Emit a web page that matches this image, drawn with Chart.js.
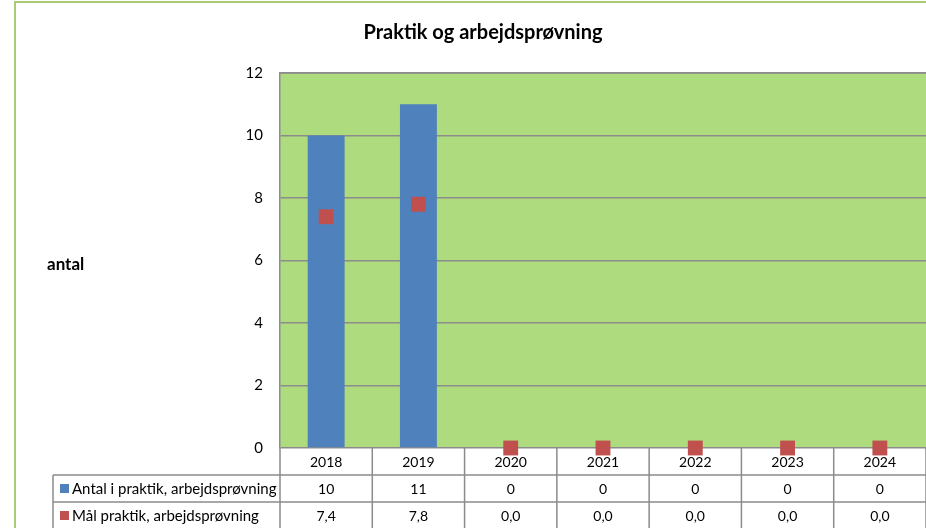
<!DOCTYPE html>
<html>
<head>
<meta charset="utf-8">
<script src="https://cdn.jsdelivr.net/npm/chart.js@4/dist/chart.umd.min.js"></script>
<style>
html,body{margin:0;padding:0;background:#fff;}
#wrap{position:relative;width:926px;height:528px;}
</style>
</head>
<body>
<div id="wrap"><canvas id="c" width="926" height="528"></canvas></div>
<script>
const categories = ['2018','2019','2020','2021','2022','2023','2024'];
const antalValues = [10, 11, 0, 0, 0, 0, 0];
const maalValues = [7.4, 7.8, 0.0, 0.0, 0.0, 0.0, 0.0];
const seriesNames = ['Antal i praktik, arbejdsprøvning', 'Mål praktik, arbejdsprøvning'];
const chartTitle = 'Praktik og arbejdsprøvning';
const yAxisTitle = 'antal';
const yMin = 0, yMax = 12, yStep = 2;

const FONT = 'Lato, "Open Sans", sans-serif';
const GREEN = '#ADDB7D';
const BLUE = '#4F81BD';
const RED = '#C0504D';
const LINE = '#8C8C8C';

const tablePlugin = {
  id: 'tablePlugin',
  beforeDraw(chart) {
    const ctx = chart.ctx, a = chart.chartArea;
    ctx.save();
    ctx.fillStyle = '#fff';
    ctx.fillRect(0, 0, chart.width, chart.height);
    ctx.fillStyle = GREEN;
    ctx.fillRect(a.left, a.top, a.right - a.left, a.bottom - a.top);
    ctx.restore();
  },
  beforeDatasetsDraw(chart) {
    const ctx = chart.ctx, a = chart.chartArea;
    const n = categories.length;
    const w = (a.right - a.left) / n;
    const r0 = a.bottom, r1 = r0 + 27, r2 = r1 + 27, r3 = r2 + 27;
    const legLeft = 53;
    ctx.save();
    // outer chart border
    ctx.strokeStyle = '#A9CB78';
    ctx.lineWidth = 2;
    ctx.beginPath();
    ctx.moveTo(15, chart.height + 5);
    ctx.lineTo(15, 2);
    ctx.lineTo(chart.width + 5, 2);
    ctx.stroke();
    // plot top border
    ctx.strokeStyle = LINE;
    ctx.lineWidth = 1.5;
    ctx.beginPath();
    ctx.moveTo(a.left, a.top); ctx.lineTo(a.right, a.top);
    ctx.stroke();
    // table lines
    ctx.beginPath();
    ctx.moveTo(legLeft, r1); ctx.lineTo(a.right, r1);
    ctx.moveTo(legLeft, r2); ctx.lineTo(a.right, r2);
    ctx.moveTo(legLeft, r3); ctx.lineTo(a.right, r3);
    ctx.moveTo(legLeft, r1); ctx.lineTo(legLeft, r3);
    for (let i = 0; i <= n; i++) {
      const x = a.left + i * w;
      ctx.moveTo(x, r0); ctx.lineTo(x, r3);
    }
    ctx.stroke();
    // texts
    ctx.fillStyle = '#000';
    ctx.textBaseline = 'middle';
    ctx.textAlign = 'center';
    ctx.font = '14px ' + FONT;
    const xs = chart.scales.x;
    categories.forEach((c, i) => {
      const x = xs.getPixelForValue(i);
      ctx.fillText(c, x, (r0 + r1) / 2 + 1);
      ctx.fillText(String(antalValues[i]), x, (r1 + r2) / 2 + 1);
      ctx.fillText(maalValues[i].toFixed(1).replace('.', ','), x, (r2 + r3) / 2 + 1);
    });
    // legend keys
    ctx.textAlign = 'left';
    ctx.fillStyle = BLUE;
    ctx.fillRect(60, (r1 + r2) / 2 - 4.5, 9, 9);
    ctx.fillStyle = RED;
    ctx.fillRect(60, (r2 + r3) / 2 - 4.5, 9, 9);
    ctx.fillStyle = '#000';
    ctx.font = '15px ' + FONT;
    ctx.fillText(seriesNames[0], 72, (r1 + r2) / 2 + 1);
    ctx.fillText(seriesNames[1], 72, (r2 + r3) / 2 + 1);
    // title
    ctx.textAlign = 'center';
    ctx.font = 'bold 20px ' + FONT;
    ctx.fillText(chartTitle, 483, 33);
    // y axis title
    ctx.textAlign = 'left';
    ctx.font = 'bold 17px ' + FONT;
    ctx.fillText(yAxisTitle, 47, 265);
    ctx.restore();
  }
};

new Chart(document.getElementById('c'), {
  data: {
    labels: categories,
    datasets: [
      {
        type: 'scatter',
        label: seriesNames[1],
        data: maalValues,
        showLine: false,
        pointStyle: 'rect',
        pointRadius: 10.5,
        pointHoverRadius: 10.5,
        backgroundColor: RED,
        borderColor: RED,
        borderWidth: 0,
        clip: false,
        order: 0
      },
      {
        type: 'bar',
        label: seriesNames[0],
        data: antalValues,
        backgroundColor: BLUE,
        borderWidth: 0,
        categoryPercentage: 1,
        barPercentage: 0.4,
        order: 1
      }
    ]
  },
  options: {
    responsive: false,
    animation: false,
    events: [],
    layout: { autoPadding: false, padding: { left: 0, top: 73, right: 0, bottom: 80 } },
    plugins: { legend: { display: false }, title: { display: false }, tooltip: { enabled: false } },
    scales: {
      x: { type: 'category', display: false, offset: true },
      y: {
        min: yMin, max: yMax,
        afterFit(s) { s.width = 280; },
        ticks: { stepSize: yStep, color: '#000', font: { family: FONT, size: 15 }, padding: 17 },
        grid: { color: LINE, lineWidth: 1.5, drawTicks: false },
        border: { color: LINE, width: 1.5 }
      }
    }
  },
  plugins: [tablePlugin]
});
</script>
</body>
</html>
